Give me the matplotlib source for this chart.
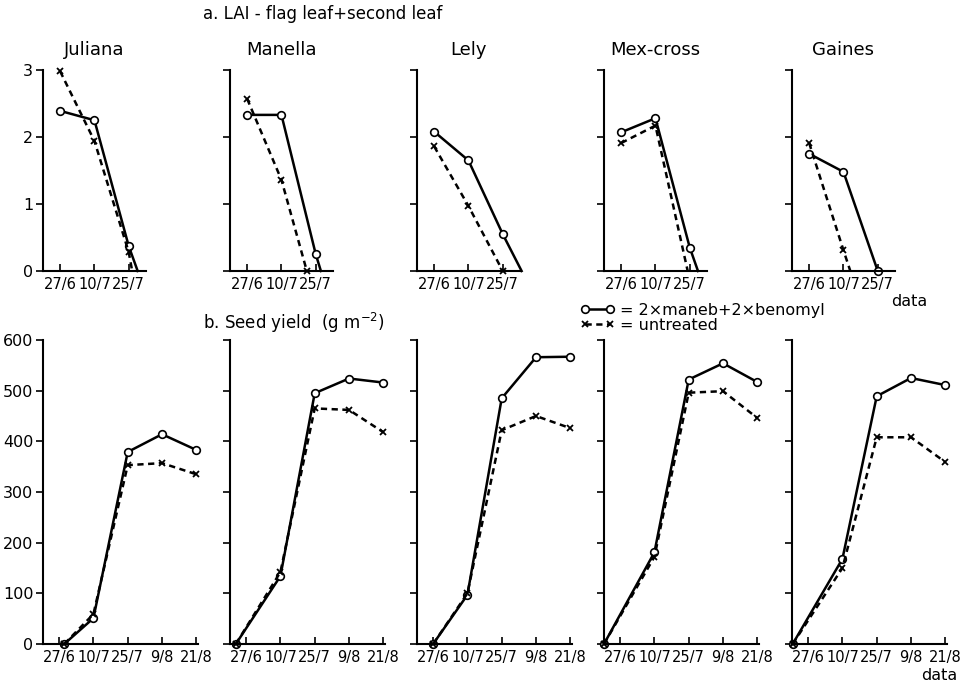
import matplotlib.pyplot as plt
from matplotlib.ticker import FixedLocator

plt.rcParams['font.family'] = 'DejaVu Sans'

varieties = ["Juliana", "Manella", "Lely", "Mex-cross", "Gaines"]
lai_dates = ["27/6", "10/7", "25/7"]
yield_dates = ["27/6", "10/7", "25/7", "9/8", "21/8"]

# ---- a. LAI (x in date-tick units, 0 = 27/6) ----
lai_treated_x = {
    "Juliana": [0, 1, 2, 2.26], "Manella": [0, 1, 2, 2.15], "Lely": [0, 1, 2, 2.55],
    "Mex-cross": [0, 1, 2, 2.24], "Gaines": [0, 1, 2],
}
lai_treated_y = {
    "Juliana": [2.39, 2.25, 0.37, 0], "Manella": [2.33, 2.33, 0.25, 0], "Lely": [2.08, 1.65, 0.55, 0],
    "Mex-cross": [2.07, 2.28, 0.35, 0], "Gaines": [1.75, 1.48, 0],
}
lai_treated_marks = {
    "Juliana": [0, 1, 2], "Manella": [0, 1, 2], "Lely": [0, 1, 2], "Mex-cross": [0, 1, 2], "Gaines": [0, 1, 2],
}
lai_untreated_x = {
    "Juliana": [0, 1, 2, 2.1], "Manella": [0, 1, 1.74], "Lely": [0, 1, 2],
    "Mex-cross": [0, 1, 1.94], "Gaines": [0, 1, 1.2],
}
lai_untreated_y = {
    "Juliana": [2.98, 1.94, 0.28, 0], "Manella": [2.57, 1.36, 0], "Lely": [1.86, 0.97, 0],
    "Mex-cross": [1.91, 2.17, 0], "Gaines": [1.91, 0.31, 0],
}
lai_untreated_marks = {
    "Juliana": [0, 1, 2], "Manella": [0, 1, 2], "Lely": [0, 1, 2], "Mex-cross": [0, 1], "Gaines": [0, 1],
}

# ---- b. Seed yield (g m-2) ----
yield_treated_x = {
    "Juliana": [0.15, 1, 2, 3, 4], "Manella": [-0.3, 1, 2, 3, 4], "Lely": [0, 1, 2, 3, 4],
    "Mex-cross": [-0.47, 1, 2, 3, 4], "Gaines": [-0.45, 1, 2, 3, 4],
}
yield_treated_y = {
    "Juliana": [0, 51, 379, 414, 383], "Manella": [0, 134, 495, 524, 516], "Lely": [0, 97, 485, 566, 567],
    "Mex-cross": [0, 181, 522, 554, 517], "Gaines": [0, 168, 489, 525, 511],
}
yield_untreated_y = {
    "Juliana": [0, 59, 353, 357, 335], "Manella": [0, 142, 465, 462, 418], "Lely": [0, 100, 422, 450, 426],
    "Mex-cross": [0, 172, 496, 499, 446], "Gaines": [0, 150, 408, 408, 359],
}

W, H = 972, 683
fig = plt.figure(figsize=(W / 100, H / 100), dpi=100)

left_px = [43, 230, 417, 604, 792]
unit = 34.3  # px per date step

solid_kw = dict(color="black", lw=1.8, marker="o", ms=5.5, mfc="white", mec="black", mew=1.2, clip_on=False)
dash_kw = dict(color="black", lw=1.8, ls=(0, (2.5, 1.8)), marker="x", ms=5, mew=1.3, clip_on=False)


def style(ax, ymax, labels, show_y):
    for s in ["top", "right"]:
        ax.spines[s].set_visible(False)
    ax.spines["left"].set_linewidth(1.5)
    ax.spines["bottom"].set_linewidth(1.5)
    ax.set_xticks(range(len(labels)))
    ax.set_xticklabels(labels, fontsize=10.5)
    ax.tick_params(axis="x", direction="in", length=5, width=1.2, pad=4)
    ax.tick_params(axis="y", which="major", direction="out", length=5, width=1.2, labelsize=11.5, pad=2)
    ax.yaxis.set_minor_locator(FixedLocator([ymax]))
    ax.tick_params(axis="y", which="minor", direction="in", length=7, width=1.5)
    if not show_y:
        ax.set_yticklabels([])


for i, v in enumerate(varieties):
    # top row
    ax = fig.add_axes([left_px[i] / W, (H - 271) / H, 3.0 * unit / W, 201 / H])
    ax.plot(lai_treated_x[v], lai_treated_y[v], markevery=lai_treated_marks[v], **solid_kw)
    ax.plot(lai_untreated_x[v], lai_untreated_y[v], markevery=lai_untreated_marks[v], **dash_kw)
    ax.set_xlim(-0.5, 2.5)
    ax.set_ylim(0, 3)
    ax.set_yticks([0, 1, 2, 3])
    style(ax, 3, lai_dates, i == 0)
    ax.text(1, 1.1, v, transform=ax.get_xaxis_transform(), ha="center", va="center", fontsize=13)

    # bottom row
    ax2 = fig.add_axes([left_px[i] / W, (H - 644) / H, 4.52 * unit / W, 304 / H])
    ax2.plot(yield_treated_x[v], yield_treated_y[v], label="= 2×maneb+2×benomyl", **solid_kw)
    ax2.plot(yield_treated_x[v], yield_untreated_y[v], label="= untreated", **dash_kw)
    ax2.set_xlim(-0.47, 4.05)
    ax2.set_ylim(0, 600)
    ax2.set_yticks(range(0, 601, 100))
    style(ax2, 600, yield_dates, i == 0)
    if i == 0:
        handles, labs = ax2.get_legend_handles_labels()

fig.text(203 / W, 1 - 14 / H, "a. LAI - flag leaf+second leaf", fontsize=12, va="center")
fig.text(203 / W, 1 - 323 / H, "b. Seed yield  (g m$^{-2}$)", fontsize=12, va="center")
fig.text(891 / W, 1 - 302 / H, "data", fontsize=11.5, va="center")
fig.text(921 / W, 1 - 675 / H, "data", fontsize=11.5, va="center")

fig.legend(handles, labs, loc="upper left", bbox_to_anchor=(580 / W, 1 - 303 / H),
           frameon=False, fontsize=11.5, numpoints=2, handlelength=2.2, handletextpad=0.3,
           borderpad=0, borderaxespad=0, labelspacing=0.0)

fig.savefig("out.png", dpi=100)
